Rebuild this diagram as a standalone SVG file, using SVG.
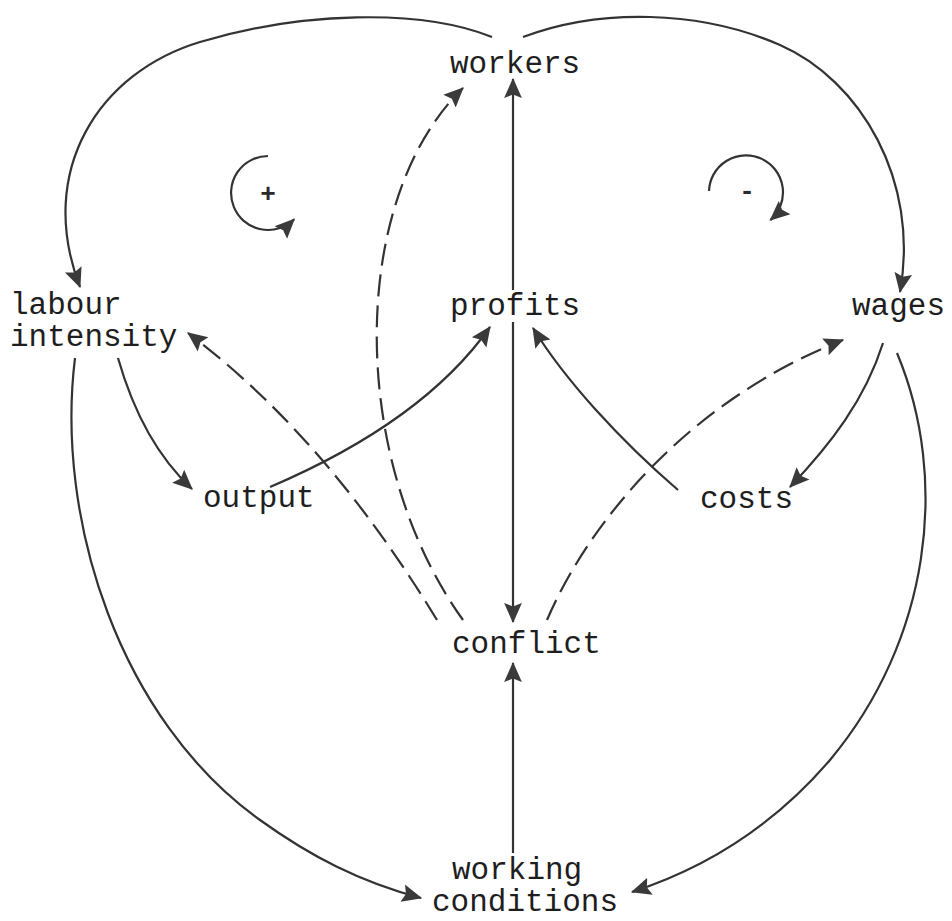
<svg xmlns="http://www.w3.org/2000/svg" width="952" height="921" viewBox="0 0 952 921">
<defs>
<marker id="ah" markerUnits="userSpaceOnUse" markerWidth="20" markerHeight="20" viewBox="0 0 18 18" refX="17" refY="9" orient="auto">
<path d="M0,1 L18,9 L0,17 L3,9 z" fill="#3a3a3a"/>
</marker>
<style>
.t{font-family:"Liberation Mono","Courier New",monospace;font-size:31px;fill:#1e1e1e}
.s{font-family:"Liberation Mono","Courier New",monospace;font-size:26px;font-weight:bold;fill:#2a2a2a;text-anchor:middle}
.c{fill:none;stroke:#333;stroke-width:2.2;marker-end:url(#ah)}
.d{stroke-dasharray:22 9}
</style>
</defs>
<rect width="952" height="921" fill="#fff"/>
<g id="connectors">
<path class="c" d="M492,37 C420,8 300,12 200,42 C100,72 35,170 80,287"/>
<path class="c" d="M523,37 C600,8 700,10 780,45 C860,80 920,180 900,292"/>
<path class="c" d="M513,290 L513,79"/>
<path class="c" d="M513,322 L513,622"/>
<path class="c" d="M513,853 L513,663"/>
<path class="c" d="M75,358 C55,520 120,720 260,820 C310,856 360,882 421,898"/>
<path class="c" d="M897,353 C950,480 930,640 830,760 C770,830 700,870 632,892"/>
<path class="c" d="M118,358 C130,400 150,450 192,489"/>
<path class="c" d="M270,487 C345,455 435,405 490,327"/>
<path class="c" d="M678,490 C620,440 565,380 533,328"/>
<path class="c" d="M883,343 C865,400 830,445 790,487"/>
<path class="c d" d="M547,620 C590,520 690,400 843,340"/>
<path class="c d" d="M437,620 C370,510 290,410 188,333"/>
<path class="c d" d="M463,620 C348,460 348,200 463,88"/>
</g>
<g id="loop-positive">
<path class="c" d="M268,156 A37,37 0 1 0 294.2,219.2"/>
<text class="s" x="268" y="202">+</text>
</g>
<g id="loop-negative">
<path class="c" d="M709,191 A37,37 0 1 1 770.4,220.1"/>
<text class="s" x="747" y="199">-</text>
</g>
<g id="workers"><text class="t" x="450" y="73">workers</text></g>
<g id="labour-intensity"><text class="t" x="10" y="314">labour</text><text class="t" x="10" y="346">intensity</text></g>
<g id="profits"><text class="t" x="450" y="315">profits</text></g>
<g id="wages"><text class="t" x="852" y="315">wages</text></g>
<g id="output"><text class="t" x="203" y="507">output</text></g>
<g id="costs"><text class="t" x="700" y="508">costs</text></g>
<g id="conflict"><text class="t" x="452" y="653">conflict</text></g>
<g id="working-conditions"><text class="t" x="452" y="879">working</text><text class="t" x="432" y="911">conditions</text></g>
</svg>
